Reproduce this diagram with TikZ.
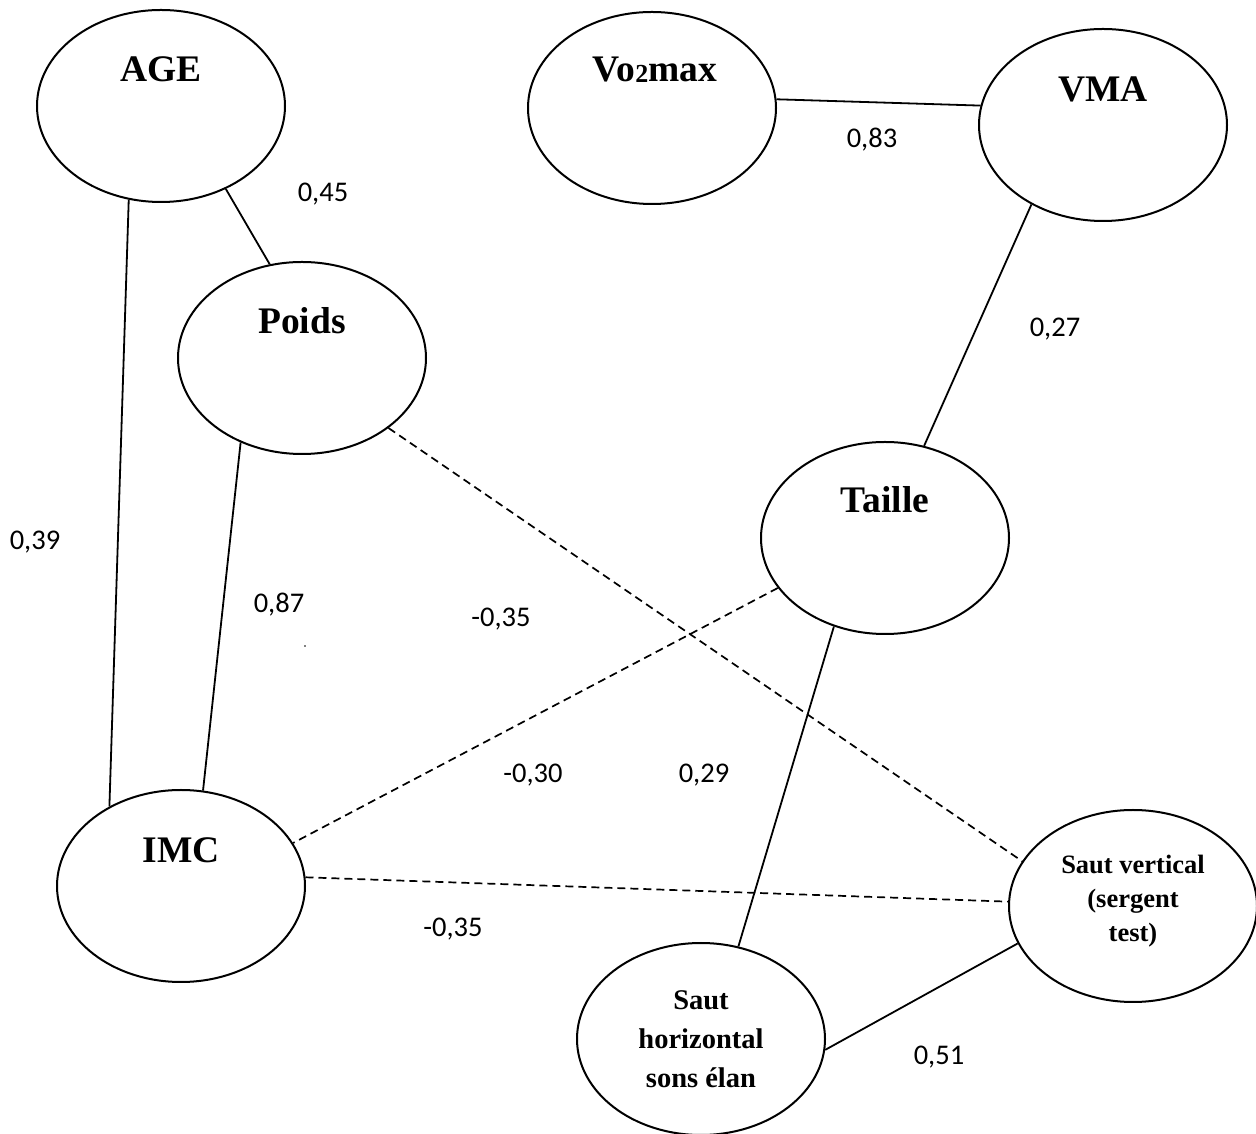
\documentclass[tikz,border=0pt]{standalone}
\usepackage{fontspec}
\setmainfont{Liberation Serif}
\newfontfamily\coeffont{Carlito}
\usetikzlibrary{shapes.geometric}

\tikzset{
  var/.style={draw=black, line width=2pt, ellipse, minimum width=248pt,
              minimum height=192pt, inner sep=0pt},
  vartext/.style={anchor=base, inner sep=0pt,
                  font=\bfseries\fontsize{37.5}{40}\selectfont},
  smalltext/.style={anchor=center, inner sep=0pt, align=center,
                    font=\bfseries\fontsize{26.5}{34}\selectfont},
  midtext/.style={anchor=center, inner sep=0pt, align=center,
                  font=\bfseries\fontsize{28.5}{39}\selectfont},
  coef/.style={anchor=base, inner sep=0pt,
               font=\coeffont\fontsize{28.5}{30}\selectfont},
  link/.style={line width=1.8pt},
  neglink/.style={line width=1.7pt, dash pattern=on 8pt off 5pt}
}

\begin{document}
\begin{tikzpicture}[x=1pt, y=1pt]
  \useasboundingbox (0,0) rectangle (1256,1133);

  % variables
  \node[var] (age)    at (161,1027) {};
  \node[var] (vo2)    at (652,1025) {};
  \node[var] (vma)    at (1103,1008) {};
  \node[var] (poids)  at (302,775)  {};
  \node[var] (taille) at (885,595)  {};
  \node[var] (imc)    at (181,247)  {};
  \node[var] (sv)     at (1133,227) {};
  \node[var] (sh)     at (701,94)   {};

  % names of the variables
  \node[vartext] (agetxt)    at ([yshift=24pt]age.center)    {AGE};
  \node[vartext] (vo2txt)    at ([xshift=3pt,yshift=26pt]vo2.center)
        {Vo\raisebox{-1pt}{\bfseries\fontsize{26}{26}\selectfont 2}max};
  \node[vartext] (vmatxt)    at ([yshift=23pt]vma.center)    {VMA};
  \node[vartext] (poidstxt)  at ([yshift=24pt]poids.center)  {Poids};
  \node[vartext] (tailletxt) at ([yshift=25pt]taille.center) {Taille};
  \node[vartext] (imctxt)    at ([yshift=23pt]imc.center)    {IMC};
  \node[smalltext] (svtxt) at ([yshift=5pt]sv.center)
        {Saut vertical\\(sergent\\test)};
  \node[midtext] (shtxt) at ([yshift=0pt]sh.center)
        {Saut\\horizontal\\sons élan};

  % positive correlations
  \draw[link] (age.-52)   -- (poids.109);
  \draw[link] (age.251)   -- (imc.132);
  \draw[link] (vo2.4.6)   -- (vma.171.7);
  \draw[link] (vma.228)   -- (taille.67);
  \draw[link] (poids.234) -- (imc.77);
  \draw[link] (taille.240) -- (sh.68);
  \draw[link] (sv.198)    -- (sh.-5);

  % negative correlations
  \draw[neglink] (poids.-39.7) -- (sv.158.7);
  \draw[neglink] (taille.205)  -- (imc.21);
  \draw[neglink] (imc.4.6)     -- (sv.178.6);

  % coefficients
  \node[coef] (c45)  at (323,931)  {0,45};
  \node[coef] (c39)  at (35,583)   {0,39};
  \node[coef] (c83)  at (872,985)  {0,83};
  \node[coef] (c27)  at (1055,796) {0,27};
  \node[coef] (c87)  at (279,520)  {0,87};
  \node[coef] (c35a) at (501,506)  {-0,35};
  \node[coef] (c30)  at (533,350)  {-0,30};
  \node[coef] (c29)  at (704,350)  {0,29};
  \node[coef] (c35b) at (453,196)  {-0,35};
  \node[coef] (c51)  at (939,69)   {0,51};

  % stray speck
  \fill (305,487) circle (0.8pt);
\end{tikzpicture}
\end{document}
